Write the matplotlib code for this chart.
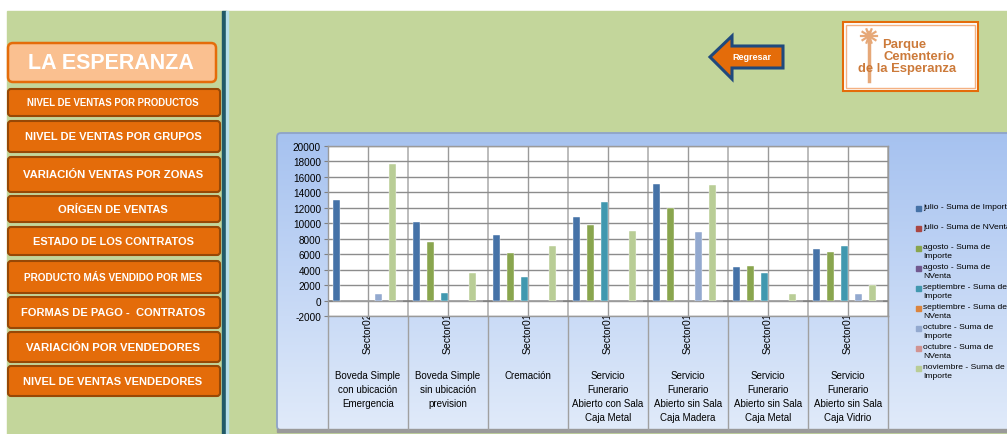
import matplotlib.pyplot as plt
import numpy as np
from matplotlib.patches import FancyBboxPatch, Rectangle, Polygon
from matplotlib.lines import Line2D
from matplotlib.transforms import blended_transform_factory

W, H = 1007, 435
plt.rcParams['font.family'] = ['Liberation Sans', 'DejaVu Sans']
plt.rcParams['axes.unicode_minus'] = False

# --- data ---
categories = ["Boveda Simple\ncon ubicación\nEmergencia",
              "Boveda Simple\nsin ubicación\nprevision",
              "Cremación",
              "Servicio\nFunerario\nAbierto con Sala\nCaja Metal",
              "Servicio\nFunerario\nAbierto sin Sala\nCaja Madera",
              "Servicio\nFunerario\nAbierto sin Sala\nCaja Metal",
              "Servicio\nFunerario\nAbierto sin Sala\nCaja Vidrio"]
sectors = ["Sector02", "Sector01", "Sector01", "Sector01", "Sector01", "Sector01", "Sector01"]

julio_importe = [13000, 10200, 8450, 10850, 15100, 4300, 6700]
julio_nventa = [3, 2, 2, 3, 4, 1, 2]
agosto_importe = [0, 7600, 6200, 9750, 12000, 4500, 6300]
agosto_nventa = [0, 2, 2, 3, 3, 1, 2]
septiembre_importe = [0, 1000, 3100, 12700, 0, 3600, 7000]
septiembre_nventa = [0, 1, 1, 3, 0, 1, 2]
octubre_importe = [900, 0, 0, 0, 8850, 0, 900]
octubre_nventa = [1, 0, 0, 0, 2, 0, 1]
noviembre_importe = [17700, 3600, 7000, 9000, 14900, 900, 2000]
noviembre_nventa = [4, 1, 2, 2, 4, 1, 1]

series = [julio_importe, julio_nventa, agosto_importe, agosto_nventa,
          septiembre_importe, septiembre_nventa, octubre_importe, octubre_nventa,
          noviembre_importe, noviembre_nventa]
series_labels = ["julio - Suma de Importe", "julio - Suma de NVenta",
                 "agosto - Suma de\nImporte", "agosto - Suma de\nNVenta",
                 "septiembre - Suma de\nImporte", "septiembre - Suma de\nNVenta",
                 "octubre - Suma de\nImporte", "octubre - Suma de\nNVenta",
                 "noviembre - Suma de\nImporte", "noviembre - Suma de\nNVenta"]
colors = ['#4572A7', '#AA4643', '#89A54E', '#71588F', '#4198AF',
          '#DB843D', '#93A9CF', '#D19392', '#B9CD96', '#A99BBD']

menu = ["NIVEL DE VENTAS POR PRODUCTOS", "NIVEL DE VENTAS POR GRUPOS",
        "VARIACIÓN VENTAS POR ZONAS", "ORÍGEN DE VENTAS", "ESTADO DE LOS CONTRATOS",
        "PRODUCTO MÁS VENDIDO POR MES", "FORMAS DE PAGO -  CONTRATOS",
        "VARIACIÓN POR VENDEDORES", "NIVEL DE VENTAS VENDEDORES"]


fig = plt.figure(figsize=(W / 100, H / 100), dpi=100)
fig.patch.set_facecolor('white')

# background canvas in pixel coordinates
bg = fig.add_axes([0, 0, 1, 1])
bg.axis('off')
bg.add_patch(Rectangle((7, 12), W, H, color='#C3D69B', zorder=0))

# divider
bg.add_patch(Rectangle((222, 12), 4, H, color='#215968', zorder=1))
bg.add_patch(Rectangle((226, 12), 1.5, H, color='#B7DEE8', zorder=1))

# title + menu buttons
bg.add_patch(FancyBboxPatch((8, 44), 208, 39, boxstyle="round,pad=0,rounding_size=5",
                            fc='#FAC090', ec='#E46C0A', lw=1.8, zorder=2))
bg.text(111, 63.5, "LA ESPERANZA", color='white', fontsize=15.5, fontweight='bold',
        ha='center', va='center', zorder=3)

boxes = [(90, 117), (122, 153), (158, 193), (197, 223), (228, 256),
         (262, 294), (298, 329), (333, 363), (367, 397)]
sizes = [6.9, 8.0, 8.1, 8.0, 7.9, 7.2, 8.0, 8.2, 8.0]
for label, (y0, y1), fs in zip(menu, boxes, sizes):
    bg.add_patch(FancyBboxPatch((8, y0), 212, y1 - y0, boxstyle="round,pad=0,rounding_size=3",
                                fc='#E46C0A', ec='#974806', lw=1.5, zorder=2))
    bg.text(113, (y0 + y1) / 2, label, color='white', fontsize=fs, fontweight='bold',
            ha='center', va='center', zorder=3)

# Regresar arrow
arrow = [(710, 58), (732, 37), (732, 47), (783, 47), (783, 69), (732, 69), (732, 80)]
bg.add_patch(Polygon(arrow, closed=True, fc='#E46C0A', ec='#1F497D', lw=2.2, zorder=2))
bg.text(752, 58, "Regresar", color='white', fontsize=6.5, fontweight='bold',
        ha='center', va='center', zorder=3)

# logo
bg.add_patch(Rectangle((843, 23), 135, 69, fc='white', ec='#E46C0A', lw=1.5, zorder=2))
bg.add_patch(Rectangle((846, 26), 129, 63, fc='white', ec='#F4B183', lw=1.0, zorder=2))
bg.add_line(Line2D([869, 869], [33, 82], color='#E6A878', lw=2.5, zorder=3))
for ang in np.linspace(0, 2 * np.pi, 10, endpoint=False):
    bg.add_line(Line2D([869, 869 + 8 * np.cos(ang)], [37, 37 + 7 * np.sin(ang)],
                       color='#E6A878', lw=1.6, zorder=3))
for txt, lx, ly in [("Parque", 882, 45), ("Cementerio", 883, 57), ("de la Esperanza", 858, 69)]:
    bg.text(lx, ly, txt, color='#CC7A3A', fontsize=9.4, fontweight='bold',
            ha='left', va='center', zorder=4)

# chart area with gradient
grad = np.linspace(0, 1, 256).reshape(-1, 1)
top = np.array([0.65, 0.76, 0.94])
bot = np.array([0.88, 0.92, 0.98])
img = top + (bot - top) * grad[..., None]
img = np.repeat(img, 2, axis=1)
bg.imshow(img, extent=(277, 1015, 431, 134), aspect='auto', zorder=1, interpolation='bilinear')
bg.add_patch(FancyBboxPatch((277, 134), 740, 297, boxstyle="round,pad=0,rounding_size=4",
                            fc='none', ec='#8EA4C8', lw=1.3, zorder=2))
bg.add_patch(Rectangle((277, 430), 740, 3, color='#9A9A9A', zorder=2))
bg.set_xlim(0, W)
bg.set_ylim(H, 0)

# plot area
ax = fig.add_axes([328 / W, 1 - 317 / H, 560 / W, 170 / H])
ax.set_facecolor('white')
n = len(categories)
x = np.arange(n) + 0.5
slot = 1 / 11.5
for k, vals in enumerate(series):
    ax.bar(x + (k - 4.5) * slot, vals, width=slot * 0.92, color=colors[k],
           edgecolor='white', linewidth=0.3, zorder=3)

ax.set_xlim(0, n)
ax.set_ylim(-2000, 20000)
ax.set_yticks(np.arange(-2000, 20001, 2000))
ax.tick_params(axis='y', labelsize=7.2, length=3, color='#808080', pad=2)
ax.set_xticks([])
ax.grid(axis='y', color='#8C8C8C', lw=1.0, zorder=1)
for b in np.arange(0, n + 1):
    ax.axvline(b, color='#B0B0B0', lw=1.2, zorder=1)
for m in x:
    ax.axvline(m, color='#9A9A9A', lw=1.0, zorder=1)
ax.axhline(0, color='#808080', lw=1.2, zorder=2)
for s in ax.spines.values():
    s.set_color('#9A9A9A')
    s.set_linewidth(1.0)

# multi-level category labels
tr = blended_transform_factory(ax.transData, bg.transData)
for i in range(n):
    bg.text(x[i], 333, sectors[i], transform=tr, rotation=90, fontsize=7.5,
            ha='center', va='center', zorder=4)
    bg.text(x[i], 371, categories[i], transform=tr, fontsize=7, ha='center',
            va='top', linespacing=1.5, zorder=4)
for b in range(n + 1):
    bg.add_line(Line2D([b, b], [317, 430], transform=tr, color='#A0A0A0', lw=1.0, zorder=3))

# legend (last series does not fit in the box, text runs off the edge as in the original)
for k in range(9):
    yk = 209 + 20 * k
    bg.add_patch(Rectangle((916, yk - 2.5), 5, 5, color=colors[k], zorder=4))
    bg.text(923, yk - 4.8, series_labels[k], fontsize=6.1, ha='left', va='top',
            linespacing=1.3, zorder=4)

fig.savefig('out.png', dpi=100)
